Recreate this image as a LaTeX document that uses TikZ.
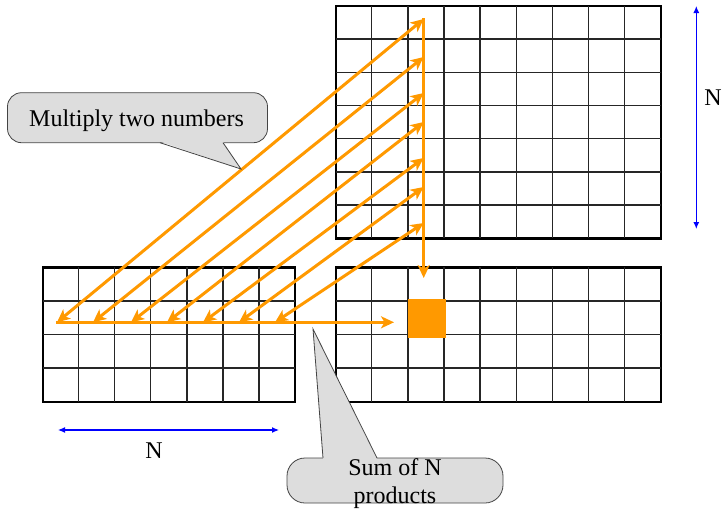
\documentclass[tikz,border=0pt]{standalone}
\usepackage{fontspec}
\setmainfont{Liberation Serif}
\usetikzlibrary{positioning,arrows.meta,calc}
\definecolor{prod}{HTML}{FF9900}
\definecolor{bubble}{HTML}{DDDDDD}
\definecolor{bubbleline}{HTML}{444444}
\definecolor{dimblue}{HTML}{0000FF}
\tikzset{
  matframe/.style={draw=black,line width=2.4pt,inner sep=0,outer sep=0,anchor=north west},
  cellline/.style={draw=black!85,line width=1.3pt},
  callbox/.style={draw=bubbleline,fill=bubble,line width=0.8pt,inner sep=0,outer sep=0},
  txt/.style={font=\fontsize{24}{28}\selectfont,align=center},
  mult/.style={-{Stealth[length=13pt,width=12pt,inset=3.5pt]},draw=prod,line width=3pt},
  multboth/.style={{Stealth[length=13pt,width=12pt,inset=3.5pt]}-{Stealth[length=13pt,width=12pt,inset=3.5pt]},draw=prod,line width=3pt},
  dimline/.style={{Latex[length=7pt,width=6pt]}-{Latex[length=7pt,width=6pt]},draw=dimblue,line width=1.2pt}}

\begin{document}
\begin{tikzpicture}[x=1pt,y=-1pt]
  \useasboundingbox (0,0) rectangle (724,509);
  % the three matrices
  \node[matframe,minimum width=252.3pt,minimum height=134.4pt] (rowmat) at (42.7,267.3) {};
  \node[matframe,minimum width=325pt,minimum height=232.6pt] (colmat) at (335.7,5.7) {};
  \node[matframe,minimum width=325pt,minimum height=134.4pt] (resmat) at (335.7,267.3) {};
  \foreach \i in {1,...,6}
    \draw[cellline] ($(rowmat.north west)+(\i*36.04,0)$) -- ($(rowmat.south west)+(\i*36.04,0)$);
  \foreach \i in {1,...,8}{
    \draw[cellline] ($(colmat.north west)+(\i*36.11,0)$) -- ($(colmat.south west)+(\i*36.11,0)$);
    \draw[cellline] ($(resmat.north west)+(\i*36.11,0)$) -- ($(resmat.south west)+(\i*36.11,0)$);}
  \foreach \j in {1,2,3}{
    \draw[cellline] ($(rowmat.north west)+(0,\j*33.6)$) -- ($(rowmat.north east)+(0,\j*33.6)$);
    \draw[cellline] ($(resmat.north west)+(0,\j*33.6)$) -- ($(resmat.north east)+(0,\j*33.6)$);}
  \foreach \j in {1,...,6}
    \draw[cellline] ($(colmat.north west)+(0,\j*33.23)$) -- ($(colmat.north east)+(0,\j*33.23)$);
  \node[fill=prod,minimum size=38.5pt,inner sep=0] (sumcell) at (427,318.6) {};

  % products along row and column
  \foreach \k/\x/\y in {1/57/19,2/93/57,3/131/93,4/167/122,5/203/158,6/239/187,7/275/223}{
    \coordinate (a\k) at (\x,322.3);
    \coordinate (b\k) at (423.7,\y);}
  \coordinate (rowstart) at (56,322.3);
  \coordinate (rowend) at (394,322.3);
  \coordinate (colstart) at (423.7,18);
  \coordinate (colend) at (423.7,278);
  \draw[mult] (rowstart) -- (rowend);
  \draw[mult] (colstart) -- (colend);
  \foreach \k in {1,...,7}
    \draw[multboth] (a\k) -- (b\k);

  % callouts
  \node[callbox,rounded corners=14pt,minimum width=260pt,minimum height=50pt] (mulbox) at (137.5,117.7) {};
  \coordinate (multip) at (241,169);
  \fill[bubble] ($(mulbox.south)+(22.5,-1.2)$) -- (multip) -- ($(mulbox.south)+(85.5,-1.2)$) -- cycle;
  \draw[bubbleline,line width=0.8pt] ($(mulbox.south)+(22.5,0)$) -- (multip) -- ($(mulbox.south)+(85.5,0)$);
  \node[txt] (multext) at ($(mulbox.center)+(-1,3.5)$) {Multiply two numbers};

  \node[callbox,rounded corners=18pt,minimum width=216pt,minimum height=45pt] (sumbox) at (395,480.5) {};
  \coordinate (sumtip) at (313,329);
  \fill[bubble] ($(sumbox.north)+(-72,1.2)$) -- (sumtip) -- ($(sumbox.north)+(-18,1.2)$) -- cycle;
  \draw[bubbleline,line width=0.8pt] ($(sumbox.north)+(-72,0)$) -- (sumtip) -- ($(sumbox.north)+(-18,0)$);
  \node[txt] (sumtext) at ($(sumbox.center)+(0,3.5)$) {Sum of N\\products};

  % sizes
  \coordinate (vtop) at (696.3,6);
  \coordinate (vbot) at (696.3,229);
  \draw[dimline] (vtop) -- (vbot);
  \node[txt] (vlabel) at (713,98) {N};
  \coordinate (hleft) at (58,430);
  \coordinate (hright) at (279,430);
  \draw[dimline] (hleft) -- (hright);
  \node[txt] (hlabel) at (154,451) {N};
\end{tikzpicture}
\end{document}
